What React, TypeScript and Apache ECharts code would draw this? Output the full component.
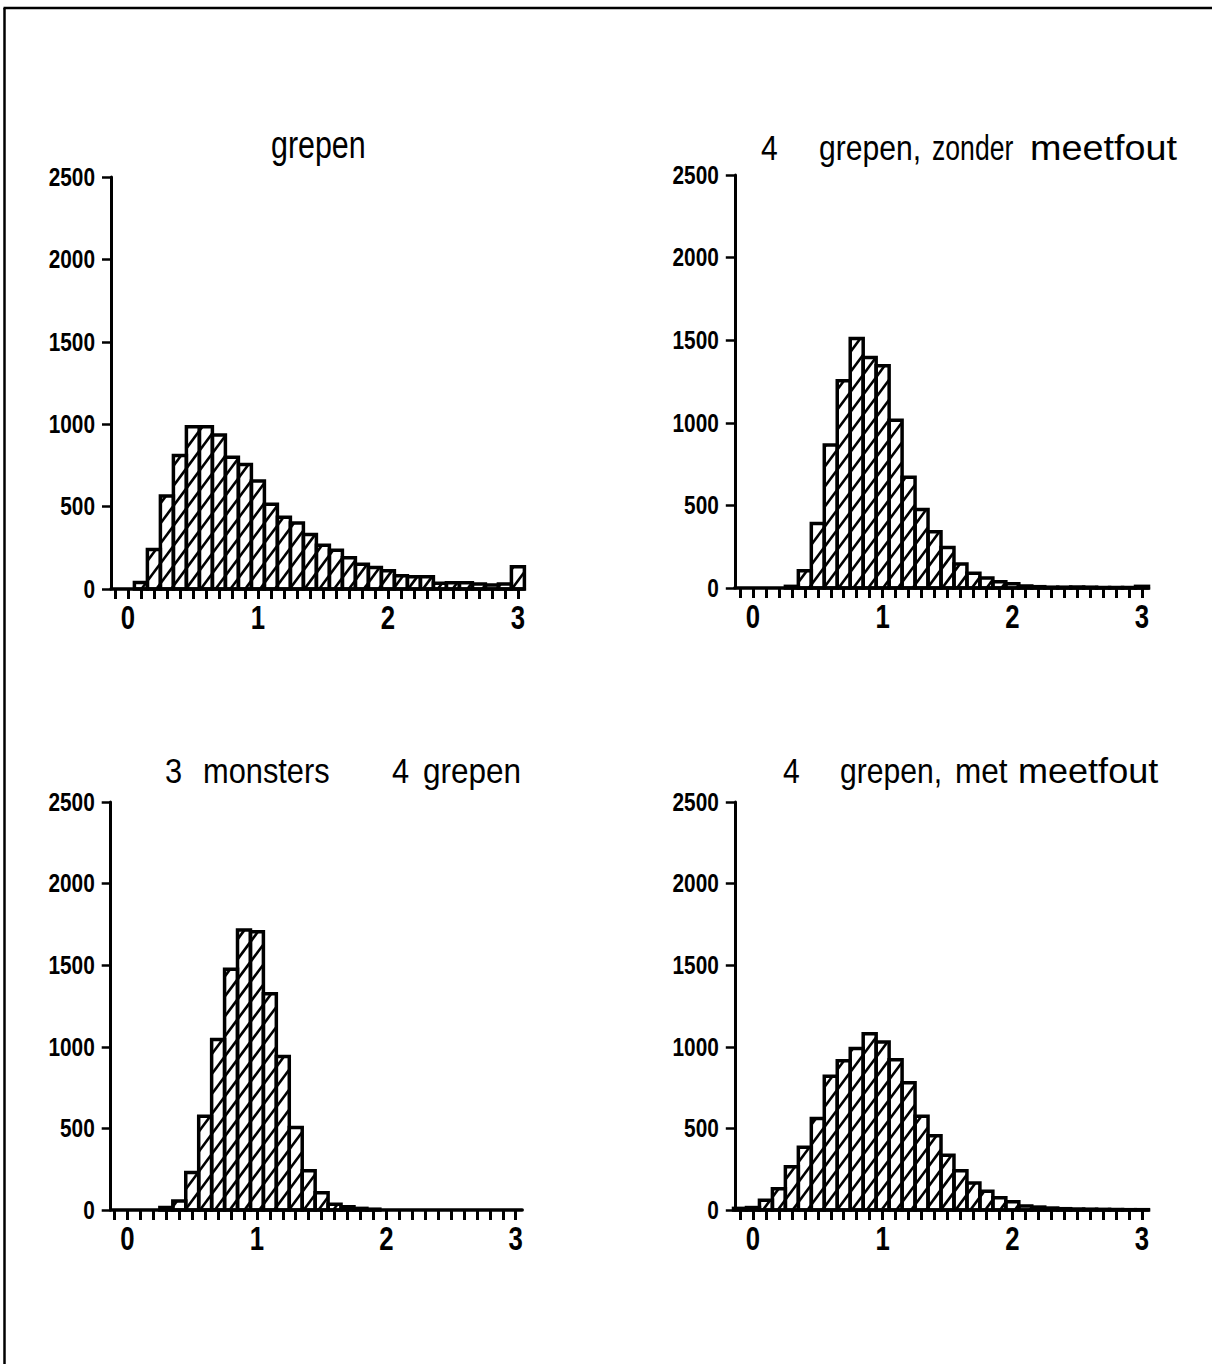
import React, { useEffect, useRef } from "react";
import * as echarts from "echarts";

// bin centres (width 0.1)
const BINS = [-0.1, 0.0, 0.1, 0.2, 0.3, 0.4, 0.5, 0.6, 0.7, 0.8, 0.9, 1.0, 1.1, 1.2, 1.3, 1.4, 1.5, 1.6, 1.7, 1.8, 1.9, 2.0, 2.1, 2.2, 2.3, 2.4, 2.5, 2.6, 2.7, 2.8, 2.9, 3.0];
const X_TICKS = [-0.1, 0.0, 0.1, 0.2, 0.3, 0.4, 0.5, 0.6, 0.7, 0.8, 0.9, 1.0, 1.1, 1.2, 1.3, 1.4, 1.5, 1.6, 1.7, 1.8, 1.9, 2.0, 2.1, 2.2, 2.3, 2.4, 2.5, 2.6, 2.7, 2.8, 2.9, 3.0];
const X_LABELS = [0, 1, 2, 3];
const Y_LABELS = [0, 500, 1000, 1500, 2000, 2500];

const GREPEN = [0, 0, 40, 240, 565, 810, 985, 985, 935, 800, 755, 655, 515, 435, 400, 330, 265, 235, 190, 150, 130, 110, 80, 75, 75, 35, 38, 38, 30, 25, 30, 135];
const ZONDER_MEETFOUT = [0, 0, 0, 0, 10, 105, 390, 865, 1255, 1510, 1395, 1345, 1015, 670, 475, 340, 245, 145, 90, 60, 38, 25, 12, 8, 5, 5, 6, 5, 3, 3, 3, 10];
const MONSTERS = [0, 0, 0, 0, 15, 55, 230, 575, 1045, 1475, 1715, 1705, 1325, 940, 505, 240, 105, 35, 20, 10, 5, 0, 0, 0, 0, 0, 0, 0, 0, 0, 0, 0];
const MET_MEETFOUT = [10, 15, 60, 130, 265, 385, 560, 820, 915, 990, 1080, 1030, 920, 780, 575, 455, 335, 240, 165, 115, 75, 50, 25, 18, 12, 8, 6, 5, 4, 3, 2, 2];

const TITLE_TL = [{ t: "grepen", x: 271, s: 0.8 }];
const TITLE_TR = [{ t: "4", x: 761, s: 0.86 }, { t: "grepen,", x: 819, s: 0.86 }, { t: "zonder", x: 932, s: 0.76 }, { t: "meetfout", x: 1030, s: 1.08 }];
const TITLE_BL = [{ t: "3", x: 165, s: 0.88 }, { t: "monsters", x: 203, s: 0.88 }, { t: "4", x: 392, s: 0.88 }, { t: "grepen", x: 423, s: 0.9 }];
const TITLE_BR = [{ t: "4", x: 783, s: 0.86 }, { t: "grepen,", x: 840, s: 0.86 }, { t: "met", x: 955, s: 0.9 }, { t: "meetfout", x: 1018, s: 1.03 }];

const PANELS = [
  { data: GREPEN, grid: { left: 111, top: 177, width: 413.4, height: 412 }, xMin: -0.13, title: TITLE_TL, titleY: 145, titleSize: 38 },
  { data: ZONDER_MEETFOUT, grid: { left: 734.8, top: 175, width: 413.7, height: 413 }, xMin: -0.14, title: TITLE_TR, titleY: 148, titleSize: 35 },
  { data: MONSTERS, grid: { left: 110.7, top: 802, width: 411.5, height: 408 }, xMin: -0.13, title: TITLE_BL, titleY: 771, titleSize: 35 },
  { data: MET_MEETFOUT, grid: { left: 734.8, top: 802, width: 413.7, height: 408 }, xMin: -0.14, title: TITLE_BR, titleY: 771, titleSize: 35 },
];

const HATCH_SLOPE = 1.35;
const HATCH_GAP = 20;

function renderHatchBar(params: any, api: any) {
  const x = api.value(0);
  const v = api.value(1);
  if (!v) return null;
  const a = api.coord([x - 0.05, 0]);
  const b = api.coord([x + 0.05, v]);
  const L = a[0], R = b[0], B = a[1], T = b[1];
  const k = HATCH_SLOPE, S = HATCH_GAP;
  const children: any[] = [];
  const cMin = T + k * L;
  const cMax = B + k * R;
  for (let n = Math.ceil(cMin / S); n * S <= cMax; n++) {
    const c = n * S;
    const x1 = Math.max(L, (c - B) / k);
    const x2 = Math.min(R, (c - T) / k);
    if (x2 - x1 < 0.5) continue;
    children.push({
      type: "line",
      shape: { x1, y1: c - k * x1, x2, y2: c - k * x2 },
      style: { stroke: "#000", lineWidth: 2.6 },
    });
  }
  children.push({
    type: "rect",
    shape: { x: L, y: T, width: R - L, height: B - T },
    style: { fill: "none", stroke: "#000", lineWidth: 3.5 },
  });
  return { type: "group", children };
}

export default function App() {
  const ref = useRef<HTMLDivElement>(null);
  useEffect(() => {
    if (!ref.current) return;
    const chart = echarts.init(ref.current, null, { renderer: "svg" });
    const option: any = {
      animation: false,
      backgroundColor: "#fff",
      grid: PANELS.map((p) => ({ ...p.grid, containLabel: false })),
      xAxis: PANELS.map((p, i) => ({
        gridIndex: i,
        type: "value",
        min: p.xMin,
        max: 3.05,
        axisLine: { show: true, onZero: false, lineStyle: { color: "#000", width: 3.5 } },
        axisTick: { show: true, customValues: X_TICKS, length: 10, lineStyle: { color: "#000", width: 3 } },
        axisLabel: { show: false },
        splitLine: { show: false },
      })),
      yAxis: PANELS.map((p, i) => ({
        gridIndex: i,
        type: "value",
        min: 0,
        max: 2500,
        interval: 500,
        axisLine: { show: true, onZero: false, lineStyle: { color: "#000", width: 3 } },
        axisTick: { show: true, length: 9, lineStyle: { color: "#000", width: 2.5 } },
        axisLabel: { show: false },
        splitLine: { show: false },
      })),
      series: PANELS.map((p, i) => ({
        type: "custom",
        xAxisIndex: i,
        yAxisIndex: i,
        clip: false,
        renderItem: renderHatchBar,
        encode: { x: 0, y: 1 },
        data: BINS.map((b, j) => [b, p.data[j]]),
      })),
    };
    chart.setOption(option);

    const graphics: any[] = [];
    // frame
    graphics.push({ type: "line", shape: { x1: 4.5, y1: 8, x2: 4.5, y2: 1364 }, style: { stroke: "#000", lineWidth: 2.5 } });
    graphics.push({ type: "line", shape: { x1: 3.5, y1: 8, x2: 1212, y2: 8 }, style: { stroke: "#000", lineWidth: 2.5 } });

    PANELS.forEach((p, i) => {
      const axisX = p.grid.left;
      const axisY = p.grid.top + p.grid.height;
      Y_LABELS.forEach((v) => {
        const py = chart.convertToPixel({ yAxisIndex: i } as any, v) as number;
        graphics.push({
          type: "text",
          x: axisX - 16,
          y: py,
          scaleX: 0.8,
          style: {
            text: String(v),
            font: 'bold 26px "Liberation Sans", Arial, sans-serif',
            fill: "#000",
            textAlign: "right",
            textVerticalAlign: "middle",
            align: "right",
            verticalAlign: "middle",
          },
        });
      });
      X_LABELS.forEach((v) => {
        const px = chart.convertToPixel({ xAxisIndex: i } as any, v) as number;
        graphics.push({
          type: "text",
          x: px,
          y: axisY + 28,
          scaleX: 0.78,
          style: {
            text: String(v),
            font: 'bold 33px "Liberation Sans", Arial, sans-serif',
            fill: "#000",
            textAlign: "center",
            textVerticalAlign: "middle",
            align: "center",
            verticalAlign: "middle",
          },
        });
      });
      p.title.forEach((w) => {
        graphics.push({
          type: "text",
          x: w.x,
          y: p.titleY,
          scaleX: w.s,
          style: {
            text: w.t,
            font: `${p.titleSize}px "Liberation Sans", Arial, sans-serif`,
            fill: "#000",
            textAlign: "left",
            textVerticalAlign: "middle",
            align: "left",
            verticalAlign: "middle",
          },
        });
      });
    });
    chart.setOption({ graphic: graphics });
    return () => chart.dispose();
  }, []);
  return (
    <div
      ref={ref}
      style={{ position: "absolute", left: 0, top: 0, width: 1212, height: 1364, background: "#fff" }}
    />
  );
}
